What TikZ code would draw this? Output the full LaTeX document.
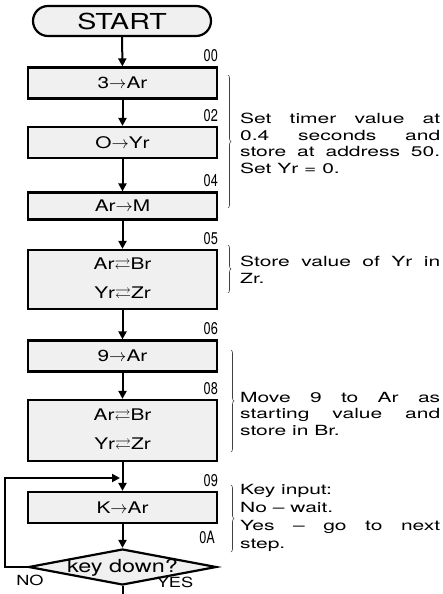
\documentclass[tikz,border=0pt]{standalone}
\usepackage{fontspec}
\usepackage{amssymb}
\setmainfont{TeX Gyre Heros}
\newfontfamily\widefont[FakeStretch=1.5]{TeX Gyre Heros}
\newfontfamily\boxfont[FakeStretch=1.3]{TeX Gyre Heros}
\newfontfamily\narrowfont[FakeStretch=0.75]{TeX Gyre Heros}
\usetikzlibrary{arrows.meta,shapes.geometric,decorations.pathreplacing,positioning}

\tikzset{
  process/.style={draw, line width=2.2pt, fill=black!6, minimum width=189pt,
      minimum height=31pt, inner sep=0pt, align=center,
      font=\boxfont\fontsize{16}{29}\selectfont},
  terminal/.style={process, rounded corners=15pt, minimum width=178pt,
      minimum height=30pt, font=\boxfont\fontsize{22}{24}\selectfont},
  decision/.style={diamond, draw, line width=2.2pt, fill=black!6, aspect=5.2,
      minimum width=188pt, minimum height=36pt, inner sep=0pt,
      text height=11pt, text depth=0pt,
      font=\boxfont\fontsize{18}{18}\selectfont},
  flow/.style={line width=2pt, -{Triangle[length=8pt,width=8pt]}},
  addr/.style={font=\narrowfont\fontsize{17}{17}\selectfont, inner sep=0pt,
      anchor=south east, yshift=4pt},
  note/.style={font=\widefont\fontsize{14}{16.5}\selectfont, text width=200pt,
      align=justify, inner sep=0pt, anchor=north west},
  bracket/.style={decorate, decoration={brace, amplitude=3pt}, line width=0.6pt, black!75},
  answer/.style={font=\boxfont\fontsize{14}{14}\selectfont, inner sep=0pt}
}

\begin{document}
\begin{tikzpicture}[x=1pt, y=-1pt]
        \useasboundingbox (0,0) rectangle (443,594);

        % Flow chart boxes
        \node[terminal] (start) at (122,21) {START};
        \node[process] (setA) at (122.5,83) {3$\rightarrow$Ar};
        \node[process] (setY) at (122.5,142.5) {O$\rightarrow$Yr};
        \node[process, minimum height=27pt] (store) at (122.5,206) {Ar$\rightarrow$M};
        \node[process, minimum height=59pt] (swapA) at (122.5,279.5)
            {Ar$\rightleftarrows$Br\\Yr$\rightleftarrows$Zr};
        \node[process] (nine) at (122.5,356) {9$\rightarrow$Ar};
        \node[process, minimum height=61pt] (swapB) at (122.5,430.5)
            {Ar$\rightleftarrows$Br\\Yr$\rightleftarrows$Zr};
        \node[process] (keyin) at (122.5,507.5) {K$\rightarrow$Ar};
        \node[decision] (keydown) at (122.5,567) {key down?};

        % Addresses
        \node[addr] (a00) at (setA.north east) {00};
        \node[addr] (a02) at (setY.north east) {02};
        \node[addr] (a04) at (store.north east) {04};
        \node[addr] (a05) at (swapA.north east) {05};
        \node[addr] (a06) at (nine.north east) {06};
        \node[addr] (a08) at (swapB.north east) {08};
        \node[addr] (a09) at (keyin.north east) {09};
        \node[addr] (a0A) at ([xshift=-3pt]keydown.north -| keyin.east) {0A};

        % Connectors
        \coordinate (loop) at (120,478);
        \coordinate (exit) at (122.5,594);
        \draw[flow] (start) -- (setA);
        \draw[flow] (setA) -- (setY);
        \draw[flow] (setY) -- (store);
        \draw[flow] (store) -- (swapA);
        \draw[flow] (swapA) -- (nine);
        \draw[flow] (nine) -- (swapB);
        \draw[flow] (swapB) -- (keyin);
        \draw[flow] (keyin) -- (keydown);
        \draw[flow] (keydown.west) -- ++(-22,0) |- (loop);
        \draw[line width=2pt] (keydown.south) -- (exit);

        % Answers
        \node[answer] (no) at (30,580) {NO};
        \node[answer] (yes) at (175,582) {YES};

        % Comments
        \draw[bracket] (228,75) -- (228,208);
        \node[note] (n1) at (240,113)
            {Set timer value at\linebreak 0.4 seconds and\linebreak store at address 50.\linebreak Set Yr = 0.};
        \draw[bracket] (228,245) -- (228,293);
        \node[note] (n2) at (240,256) {Store value of Yr in\linebreak Zr.};
        \draw[bracket] (231,350) -- (231,452);
        \node[note] (n3) at (240,392)
            {Move 9 to Ar as\linebreak starting value and\linebreak store in Br.};
        \draw[bracket] (231,485) -- (231,552);
        \node[note, font=\widefont\fontsize{14}{18}\selectfont] (n4) at (240,484)
            {Key input:\\No \textendash{} wait.\\Yes \textendash{} go to next\linebreak step.};
    \end{tikzpicture}
\end{document}
